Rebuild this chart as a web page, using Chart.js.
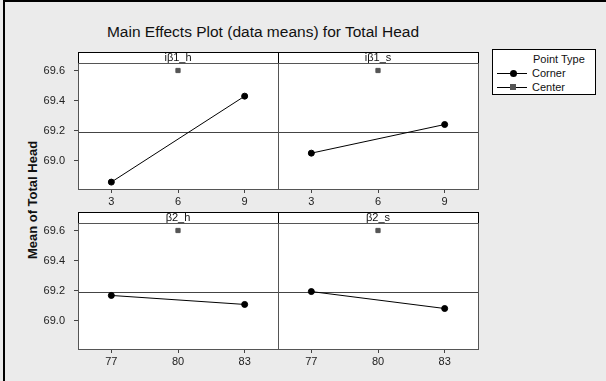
<!DOCTYPE html>
<html>
<head>
<meta charset="utf-8">
<script src="https://cdn.jsdelivr.net/npm/chart.js@4"></script>
<style>
  html, body { margin: 0; padding: 0; background: #ebebeb; }
  #wrap { position: relative; width: 606px; height: 381px; overflow: hidden; background: #ebebeb; font-family: "Liberation Sans", Arial, sans-serif; }
  #wrap canvas { position: absolute; left: 0; top: 0; }
  #frame { position: absolute; left: 3px; top: 0; width: 700px; height: 500px; border-left: 2px solid #000; border-top: 2px solid #000; }
  #title { position: absolute; left: 0; top: 23px; width: 526px; text-align: center; font-size: 15.5px; color: #111; }
  #ylab { position: absolute; left: 32px; top: 200px; transform: translate(-50%, -50%) rotate(-90deg); white-space: nowrap; font-size: 13px; font-weight: bold; color: #111; }
  #legend { position: absolute; left: 492px; top: 49px; width: 102px; height: 44px; background: #fff; border: 1px solid #000; font-size: 11px; color: #111; }
  #legend .hd { position: absolute; left: 40px; top: 3px; }
  #legend .ln { position: absolute; left: 4px; width: 30px; height: 1px; background: #000; }
  #legend .dot { position: absolute; left: 17px; width: 7px; height: 7px; border-radius: 50%; background: #000; }
  #legend .sq { position: absolute; left: 17px; width: 6px; height: 6px; background: #555; }
  #legend .tx { position: absolute; left: 39px; }
</style>
</head>
<body>
<div id="wrap">
  <div id="frame"></div>
  <div id="title">Main Effects Plot (data means) for Total Head</div>
  <div id="ylab">Mean of Total Head</div>
  <canvas id="p0" width="606" height="381"></canvas>
  <canvas id="p1" width="606" height="381"></canvas>
  <canvas id="p2" width="606" height="381"></canvas>
  <canvas id="p3" width="606" height="381"></canvas>
  <div id="legend">
    <div class="hd">Point Type</div>
    <div class="ln" style="top:23px"></div><div class="dot" style="top:20px"></div><div class="tx" style="top:17px">Corner</div>
    <div class="ln" style="top:37px"></div><div class="sq" style="top:34px"></div><div class="tx" style="top:31px">Center</div>
  </div>
</div>
<script>
// data
const factorNames = ["iβ1_h", "iβ1_s", "β2_h", "β2_s"];
const topLevels = [3, 9];
const bottomLevels = [77, 83];
const topCenter = 6;
const bottomCenter = 80;
const cornerMeans = [
  [68.856, 69.429],
  [69.049, 69.240],
  [69.167, 69.107],
  [69.193, 69.080]
];
const centerMeans = [69.6, 69.6, 69.6, 69.6];
const grandMean = 69.19;
const yTicks = [69.0, 69.2, 69.4, 69.6];
const topTicks = [3, 6, 9];
const bottomTicks = [77, 80, 83];

// layout of the 2x2 panels (pixels)
const W = 606, H = 381;
const boxes = [
  { left: 78, right: 278, top: 63, bottom: 189 },
  { left: 278, right: 478, top: 63, bottom: 189 },
  { left: 78, right: 278, top: 223, bottom: 349 },
  { left: 278, right: 478, top: 223, bottom: 349 }
];
const yAxisW = 40, xAxisH = 20, stripH = 11;
const tickFont = { family: "Liberation Sans", size: 11 };

const panelFrame = {
  id: "panelFrame",
  beforeDatasetsDraw(chart, args, opts) {
    const ctx = chart.ctx;
    const a = chart.chartArea;
    ctx.save();
    ctx.fillStyle = "#fff";
    ctx.fillRect(a.left, a.top, a.right - a.left, a.bottom - a.top);
    // overall mean reference line
    const y = Math.round(chart.scales.y.getPixelForValue(grandMean)) + 0.5;
    ctx.strokeStyle = "#444";
    ctx.lineWidth = 1;
    ctx.beginPath();
    ctx.moveTo(a.left, y);
    ctx.lineTo(a.right, y);
    ctx.stroke();
    // strip with factor name
    ctx.fillRect(a.left, a.top - stripH, a.right - a.left, stripH);
    ctx.strokeStyle = "#000";
    ctx.strokeRect(a.left + 0.5, a.top - stripH + 0.5, a.right - a.left, stripH);
    ctx.fillStyle = "#111";
    ctx.font = "11px 'Liberation Sans'";
    ctx.textAlign = "center";
    ctx.textBaseline = "middle";
    ctx.fillText(opts.label, (a.left + a.right) / 2, a.top - stripH / 2);
    // plot frame
    ctx.strokeStyle = "#555";
    ctx.strokeRect(a.left + 0.5, a.top + 0.5, a.right - a.left, a.bottom - a.top);
    ctx.restore();
  }
};

factorNames.forEach((name, i) => {
  const box = boxes[i];
  const isTop = i < 2;
  const showY = i % 2 === 0;
  const levels = isTop ? topLevels : bottomLevels;
  const center = isTop ? topCenter : bottomCenter;
  const xTicks = isTop ? topTicks : bottomTicks;

  new Chart(document.getElementById("p" + i), {
    type: "line",
    data: {
      datasets: [
        {
          label: "Corner",
          data: levels.map((lv, k) => ({ x: lv, y: cornerMeans[i][k] })),
          borderColor: "#000",
          borderWidth: 1,
          pointStyle: "circle",
          pointRadius: 3,
          pointBackgroundColor: "#000",
          pointBorderColor: "#000",
          tension: 0
        },
        {
          label: "Center",
          data: [{ x: center, y: centerMeans[i] }],
          showLine: false,
          pointStyle: "rect",
          pointRadius: 3,
          pointBackgroundColor: "#555",
          pointBorderColor: "#555"
        }
      ]
    },
    options: {
      responsive: false,
      animation: false,
      devicePixelRatio: 1,
      events: [],
      layout: {
        padding: {
          left: showY ? box.left - yAxisW : box.left,
          right: W - box.right,
          top: box.top,
          bottom: H - box.bottom - xAxisH
        }
      },
      plugins: {
        legend: { display: false },
        tooltip: { enabled: false },
        panelFrame: { label: name }
      },
      scales: {
        x: {
          type: "linear",
          min: xTicks[0] - 1.5,
          max: xTicks[2] + 1.5,
          afterBuildTicks: s => { s.ticks = xTicks.map(v => ({ value: v })); },
          afterFit: s => { s.height = xAxisH; },
          grid: { drawOnChartArea: false, drawTicks: true, tickLength: 4, color: "#444" },
          border: { display: false },
          ticks: { padding: 2, color: "#222", font: tickFont, maxRotation: 0, autoSkip: false }
        },
        y: {
          display: showY,
          min: 68.81,
          max: 69.65,
          afterBuildTicks: s => { s.ticks = yTicks.map(v => ({ value: v })); },
          afterFit: s => { s.width = showY ? yAxisW : 0; },
          grid: { drawOnChartArea: false, drawTicks: true, tickLength: 4, color: "#444" },
          border: { display: false },
          ticks: { padding: 9, color: "#222", font: tickFont, callback: v => v.toFixed(1) }
        }
      }
    },
    plugins: [panelFrame]
  });
});
</script>
</body>
</html>
